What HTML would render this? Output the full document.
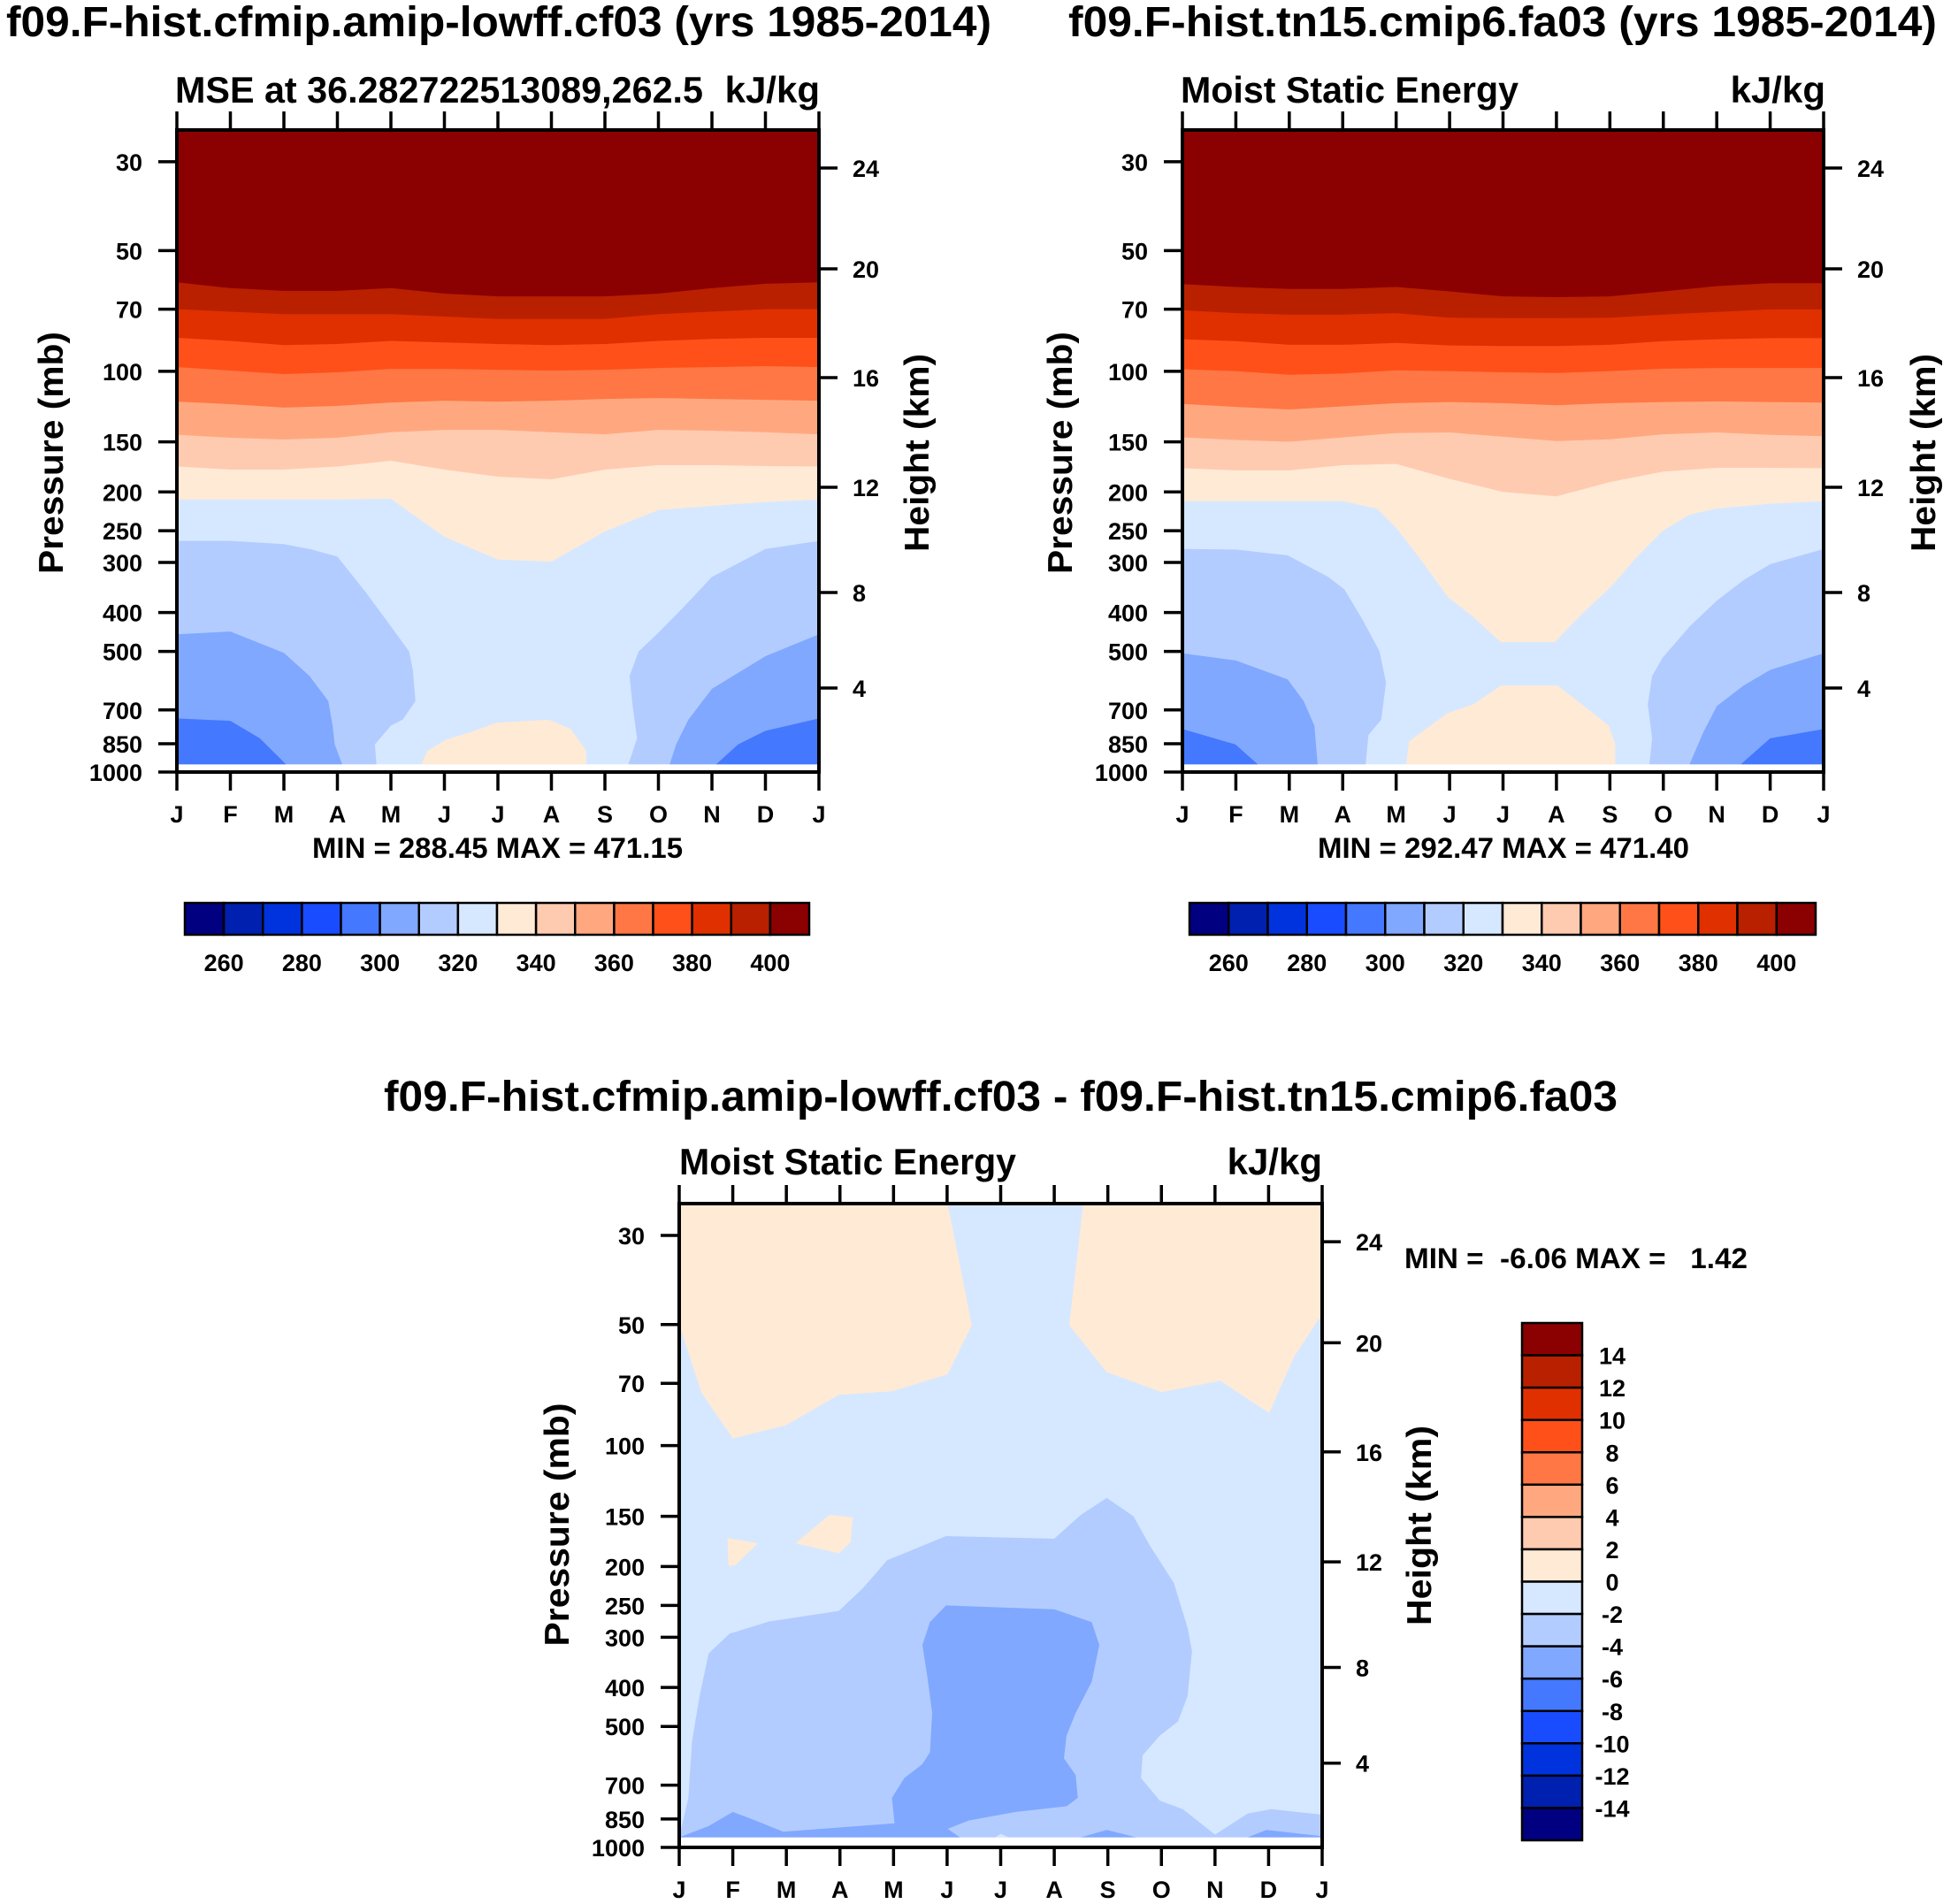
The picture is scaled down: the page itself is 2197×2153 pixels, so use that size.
<!DOCTYPE html>
<html>
<head>
<meta charset="utf-8">
<style>
  html, body { margin: 0; padding: 0; background: #ffffff; }
  svg { display: block; }
  text { font-family: "Liberation Sans", Arial, sans-serif; font-weight: bold; fill: #000; }
</style>
</head>
<body>
<svg id="fig" xmlns="http://www.w3.org/2000/svg" width="2197" height="2153" viewBox="0 0 2197 2153">
  <rect x="0" y="0" width="2197" height="2153" fill="#ffffff"/>

  <!-- Panel 1 texts -->
  <text x="7" y="41" font-size="48" textLength="1114" lengthAdjust="spacingAndGlyphs">f09.F-hist.cfmip.amip-lowff.cf03 (yrs 1985-2014)</text>
  <text x="198" y="116" font-size="42" textLength="597" lengthAdjust="spacingAndGlyphs">MSE at 36.282722513089,262.5</text>
  <text x="927" y="116" font-size="42" text-anchor="end">kJ/kg</text>
  <text transform="translate(71,512) rotate(-90)" font-size="39" text-anchor="middle" textLength="274" lengthAdjust="spacingAndGlyphs">Pressure (mb)</text>
  <text transform="translate(1050,512) rotate(-90)" font-size="39" text-anchor="middle" textLength="224" lengthAdjust="spacingAndGlyphs">Height (km)</text>
  <text x="353" y="970" font-size="32" textLength="419" lengthAdjust="spacingAndGlyphs">MIN = 288.45 MAX = 471.15</text>

  <!-- Panel 2 texts -->
  <text x="1208" y="41" font-size="48" textLength="982" lengthAdjust="spacingAndGlyphs">f09.F-hist.tn15.cmip6.fa03 (yrs 1985-2014)</text>
  <text x="1335" y="116" font-size="42" textLength="382" lengthAdjust="spacingAndGlyphs">Moist Static Energy</text>
  <text x="2064" y="116" font-size="42" text-anchor="end">kJ/kg</text>
  <text transform="translate(1212,512) rotate(-90)" font-size="39" text-anchor="middle" textLength="274" lengthAdjust="spacingAndGlyphs">Pressure (mb)</text>
  <text transform="translate(2188,512) rotate(-90)" font-size="39" text-anchor="middle" textLength="224" lengthAdjust="spacingAndGlyphs">Height (km)</text>
  <text x="1490" y="970" font-size="32" textLength="420" lengthAdjust="spacingAndGlyphs">MIN = 292.47 MAX = 471.40</text>

  <!-- Panel 3 texts -->
  <text x="434" y="1256" font-size="48" textLength="1395" lengthAdjust="spacingAndGlyphs">f09.F-hist.cfmip.amip-lowff.cf03 - f09.F-hist.tn15.cmip6.fa03</text>
  <text x="768" y="1328" font-size="42" textLength="381" lengthAdjust="spacingAndGlyphs">Moist Static Energy</text>
  <text x="1495" y="1328" font-size="42" text-anchor="end">kJ/kg</text>
  <text transform="translate(643,1724) rotate(-90)" font-size="39" text-anchor="middle" textLength="275" lengthAdjust="spacingAndGlyphs">Pressure (mb)</text>
  <text transform="translate(1618,1725) rotate(-90)" font-size="39" text-anchor="middle" textLength="226" lengthAdjust="spacingAndGlyphs">Height (km)</text>
  <text x="1588" y="1434" font-size="32" textLength="388" lengthAdjust="spacingAndGlyphs" xml:space="preserve">MIN =  -6.06 MAX =   1.42</text>

  <g id="layer"></g>
</svg>

<script>
// ---------------- data ----------------
const monthLabels = ['J','F','M','A','M','J','J','A','S','O','N','D','J'];
const monthIdx = [0,1,2,3,4,5,6,7,8,9,10,11,12];
const pressureTicks = [30,50,70,100,150,200,250,300,400,500,700,850,1000];
const heightTicks = [24,20,16,12,8,4];
const heightTickPressures = [31.1,55.5,103.7,194.7,356.5,617];

const palette = ['#000080','#0020b0','#0033dd','#1a4cff','#4478ff','#80a8ff','#b3ccff','#d6e8ff',
                 '#ffead6','#ffcbb0','#ffa880','#ff7744','#ff5019','#e03000','#b82000','#8b0000'];
const cbLabels12 = [260,280,300,320,340,360,380,400];
const cbLabels3 = [14,12,10,8,6,4,2,0,-2,-4,-6,-8,-10,-12,-14];

// Panel 1 contour boundaries (pressure, mb, at each month)
const p1B330 = [209,209,209,209,208,259,295,298.5,251,222,216.7,212,209];
const p1B340 = [172.8,175.9,175.9,172.8,167.2,175.9,183.2,186,175.9,171.5,171.5,172.4,172.8];
const p1B350 = [144,146.5,148,146.5,142,140,140,142,143.6,140,140.7,142,143.6];
const p1B360 = [119,120.8,123.2,122,119.6,118.4,119,118.4,117.2,116.6,117.2,117.8,118.4];
const p1B370 = [97.6,99.6,101.6,100.6,98.6,98.6,99.1,99.6,99.1,98.1,97.6,97.1,97.6];
const p1B380 = [82.5,84,86,85.5,84,84.7,85.5,86,85.5,84,83,82.5,82.5];
const p1B390 = [70,71,72,72,72,73,74,74,74,72,71,70,70];
const p1B400 = [60,62,63,63,62,64,65,65,65,64,62,60.5,60];
const p1Low320L = [[0,265],[1,265],[2,270],[2.5,278],[3,290],[3.53,356],[4,433],[4.34,500],[4.41,556],[4.46,665],[4.22,740],[4,766],[3.7,853],[3.73,957],[0,957]];
const p1Low320R = [[12,265],[11,277.6],[10,326],[9.45,390],[9,449],[8.63,500],[8.46,576],[8.52,689],[8.6,824],[8.44,957],[12,957]];
const p1Low310L = [[0,453],[1,446],[2,504],[2.48,576],[2.83,665],[2.91,766],[2.95,853],[3.09,957],[0,957]];
const p1Low310R = [[12,453],[11,514],[10,620],[9.56,740],[9.33,853],[9.21,957],[12,957]];
const p1Low300L = [[0,735],[1,745],[1.55,824],[2.04,957],[0,957]];
const p1Low300R = [[12,735],[11,789],[10.49,853],[10.08,957],[12,957]];
const p1High340 = [[4.57,957],[4.69,884],[5.04,829],[5.5,795],[5.97,753],[6.95,740],[7.36,781],[7.65,884],[7.65,957]];

// Panel 2 contour boundaries
const p2B330 = [[0,211],[1,211],[2,211],[3,211],[3.64,220],[3.99,245],[4.44,293],[4.97,366],[5.45,411],[5.96,474],[6.97,474],[7.47,404],[8.03,344],[8.48,293],[8.99,250],[9.49,228],[10,220],[11,214],[12,211]];
const p2B340 = [174.6,176.7,176.7,171.5,170.3,185.6,200.1,205.2,189,178,174.1,174.1,174.6];
const p2B350 = [146.2,148.4,149.9,146.2,142.6,142.1,145.7,149.4,147.8,143.6,142.1,144.1,145.2];
const p2B360 = [120.6,122.7,124.5,122.3,120.1,119.3,120.1,121.5,120.1,119.3,118.9,119.3,119.7];
const p2B370 = [98.8,99.9,102,101.3,99.5,99.9,100.6,101,99.9,98.5,98.1,98.1,98.1];
const p2B380 = [83.2,84.1,85.9,85.9,85,86.2,86.5,86.5,85.9,84.1,83.2,82.7,82.7];
const p2B390 = [70.4,71.6,72.2,72.2,71.6,73.5,73.7,73.7,73.5,72.2,71.1,70.1,70.1];
const p2B400 = [60.6,61.6,62.3,62.3,61.6,63.2,65,65.3,65,63.2,61.3,60.3,60.3];
const p2Low320L = [[0,277.6],[1,278.5],[1.97,288],[2.73,326],[3.03,350],[3.38,418.5],[3.69,500],[3.81,598],[3.72,740],[3.48,809],[3.43,957],[0,957]];
const p2Low320R = [[12,277.6],[11,303],[10.5,332],[10,373.5],[9.49,433.5],[8.99,518],[8.79,576],[8.71,677],[8.79,824],[8.74,957],[12,957]];
const p2Low310L = [[0,505.5],[1,527],[1.97,587],[2.27,665],[2.47,766],[2.53,957],[0,957]];
const p2Low310R = [[12,505.5],[11,556],[10.5,608.5],[10,685],[9.75,795],[9.49,957],[12,957]];
const p2Low300L = [[0,781],[0.99,853],[1.41,957],[0,957]];
const p2Low300R = [[12,781],[11,824],[10.45,957],[12,957]];
const p2High340 = [[4.19,957],[4.24,839],[4.95,714],[5.45,677],[5.96,608.5],[7.02,608.5],[7.47,677],[7.98,766],[8.1,853],[8.1,957]];

// Panel 3 (difference) regions
const p3Pos0L = [[0,25],[5.01,25],[5.24,35.7],[5.46,50.2],[5.01,66.5],[3.97,73.3],[2.98,74.8],[1.99,89],[1.0,96],[0.42,74],[0,50]];
const p3Pos0R = [[7.54,25],[7.28,50.2],[7.98,65.7],[9.0,73.6],[10.1,69],[11.01,83],[11.48,60],[12,47],[12,25]];
const p3Pos0S1 = [[0.9,170],[1.47,175],[1.04,199],[0.92,199]];
const p3Pos0S2 = [[2.17,175],[2.81,148.7],[3.24,151],[3.2,174],[2.98,185.5]];
const p3Neg2 = [[0,944],[0.17,753],[0.24,544],[0.38,420],[0.55,329],[0.94,294],[1.68,274],[2.98,258],[3.42,227],[3.88,193],[4.98,168],[7.0,170.5],[7.49,149],[7.98,135],[8.48,150],[8.79,178],[9.23,219.5],[9.49,284.5],[9.57,324],[9.49,420],[9.31,486],[8.97,527],[8.65,590],[8.62,672],[8.97,765],[9.4,803],[10.0,929],[10.61,824],[11.05,803],[12,829],[12,944]];
const p3Neg4A = [[0,944],[0.55,885],[1.0,816],[1.42,857],[1.94,914],[4.02,871],[3.97,753],[4.2,672],[4.54,620],[4.68,580],[4.72,463],[4.63,375],[4.54,313.5],[4.68,275],[4.98,250],[7.0,255.6],[7.7,275],[7.84,313.5],[7.7,387],[7.4,463],[7.23,527],[7.18,600],[7.4,661],[7.44,753],[7.23,790],[6.28,816],[5.41,857],[5.01,899],[5.24,944]];
const p3Neg4B = [[7.49,944],[7.98,905],[8.53,944]];
const p3Neg4C = [[10.61,944],[10.96,905],[12,938],[12,944]];
const p3Neg0Spot = [[5.9,944],[6.0,925],[6.15,944]];

// ---------------- drawing ----------------
const NS = 'http://www.w3.org/2000/svg';
const layer = document.getElementById('layer');
const PTOP = 25;

function mk(tag, parent) {
  const e = document.createElementNS(NS, tag);
  (parent || layer).appendChild(e);
  return e;
}

function makeAxes(left, right, top, bottom) {
  const k = (bottom - top) / Math.log(1000 / PTOP);
  return {
    x: m => left + (right - left) * m / 12,
    y: p => bottom - k * Math.log(1000 / p),
    left, right, top, bottom
  };
}

function polyPts(ax, pts) {
  return pts.map(q => ax.x(q[0]).toFixed(1) + ',' + ax.y(q[1]).toFixed(1)).join(' ');
}

function drawPoly(g, ax, pts, color, name) {
  const e = mk('polygon', g);
  e.setAttribute('points', polyPts(ax, pts));
  e.setAttribute('fill', color);
  
  
}

function monthlyToPairs(arr) { return monthIdx.map((m, i) => [m, arr[i]]); }

function drawBandFromTop(g, ax, boundaryPairs, color, name) {
  const pts = [[0, PTOP], [12, PTOP]].concat(boundaryPairs.slice().reverse());
  drawPoly(g, ax, pts, color, name);
}

function drawFrame(ax, prefix, dataBottomP) {
  const g = mk('g');
  
  
  const fr = mk('rect', g);
  fr.setAttribute('x', ax.left); fr.setAttribute('y', ax.top);
  fr.setAttribute('width', ax.right - ax.left); fr.setAttribute('height', ax.bottom - ax.top);
  fr.setAttribute('fill', 'none'); fr.setAttribute('stroke', '#000'); fr.setAttribute('stroke-width', '4');
  
  
  // month ticks top & bottom
  monthIdx.forEach((m, i) => {
    const x = ax.x(m);
    const tb = mk('line', g);
    tb.setAttribute('x1', x); tb.setAttribute('x2', x);
    tb.setAttribute('y1', ax.bottom); tb.setAttribute('y2', ax.bottom + 21);
    tb.setAttribute('stroke', '#000'); tb.setAttribute('stroke-width', '3.5');
    
    
    const tt = mk('line', g);
    tt.setAttribute('x1', x); tt.setAttribute('x2', x);
    tt.setAttribute('y1', ax.top); tt.setAttribute('y2', ax.top - 21);
    tt.setAttribute('stroke', '#000'); tt.setAttribute('stroke-width', '3.5');
    
    
    const lab = mk('text', g);
    lab.setAttribute('x', x); lab.setAttribute('y', ax.bottom + 57);
    lab.setAttribute('font-size', '27'); lab.setAttribute('text-anchor', 'middle');
    lab.textContent = monthLabels[i];
    
    
  });
  pressureTicks.forEach(p => {
    const y = ax.y(p);
    const t = mk('line', g);
    t.setAttribute('x1', ax.left - 21); t.setAttribute('x2', ax.left);
    t.setAttribute('y1', y); t.setAttribute('y2', y);
    t.setAttribute('stroke', '#000'); t.setAttribute('stroke-width', '3.5');
    
    
    const lab = mk('text', g);
    lab.setAttribute('x', ax.left - 39); lab.setAttribute('y', y + 10);
    lab.setAttribute('font-size', '27'); lab.setAttribute('text-anchor', 'end');
    lab.textContent = String(p);
    
    
  });
  heightTicks.forEach((h, i) => {
    const y = ax.y(heightTickPressures[i]);
    const t = mk('line', g);
    t.setAttribute('x1', ax.right); t.setAttribute('x2', ax.right + 21);
    t.setAttribute('y1', y); t.setAttribute('y2', y);
    t.setAttribute('stroke', '#000'); t.setAttribute('stroke-width', '3.5');
    
    
    const lab = mk('text', g);
    lab.setAttribute('x', ax.right + 38); lab.setAttribute('y', y + 10);
    lab.setAttribute('font-size', '27');
    lab.textContent = String(h);
    
    
  });
}

function drawPanel(prefix, ax, dataBottomP, bands, lowPolys) {
  const g = mk('g');
  
  
  drawPoly(g, ax, [[0, PTOP], [12, PTOP], [12, dataBottomP], [0, dataBottomP]], '#d6e8ff', prefix + '-base-band');
  bands.forEach(b => drawBandFromTop(g, ax, b.pairs, b.color, prefix + '-band-' + b.level));
  lowPolys.forEach(b => drawPoly(g, ax, b.pts, b.color, prefix + '-region-' + b.level));
  drawFrame(ax, prefix, dataBottomP);
}

function drawHorizontalColorbar(prefix, x0, x1, y0, y1) {
  const g = mk('g');
  
  
  const w = (x1 - x0) / palette.length;
  palette.forEach((c, i) => {
    const r = mk('rect', g);
    r.setAttribute('x', x0 + i * w); r.setAttribute('y', y0);
    r.setAttribute('width', w); r.setAttribute('height', y1 - y0);
    r.setAttribute('fill', c); r.setAttribute('stroke', '#000'); r.setAttribute('stroke-width', '2.5');
    
    
  });
  cbLabels12.forEach((v, i) => {
    const t = mk('text', g);
    t.setAttribute('x', x0 + (1 + 2 * i) * w); t.setAttribute('y', y1 + 41);
    t.setAttribute('font-size', '27'); t.setAttribute('text-anchor', 'middle');
    t.textContent = String(v);
    
    
  });
}

function drawVerticalColorbar(prefix, x0, x1, y0, y1) {
  const g = mk('g');
  
  
  const h = (y1 - y0) / palette.length;
  palette.slice().reverse().forEach((c, i) => {
    const r = mk('rect', g);
    r.setAttribute('x', x0); r.setAttribute('y', y0 + i * h);
    r.setAttribute('width', x1 - x0); r.setAttribute('height', h);
    r.setAttribute('fill', c); r.setAttribute('stroke', '#000'); r.setAttribute('stroke-width', '2.5');
    
    
  });
  cbLabels3.forEach((v, i) => {
    const t = mk('text', g);
    t.setAttribute('x', x1 + 34); t.setAttribute('y', y0 + (i + 1) * h + 10);
    t.setAttribute('font-size', '27'); t.setAttribute('text-anchor', 'middle');
    t.textContent = String(v);
    
    
  });
}

// Panel 1
const ax1 = makeAxes(200, 926, 147, 873);
drawPanel('panel1', ax1, 957, [
  {level: 330, color: '#ffead6', pairs: monthlyToPairs(p1B330)},
  {level: 340, color: '#ffcbb0', pairs: monthlyToPairs(p1B340)},
  {level: 350, color: '#ffa880', pairs: monthlyToPairs(p1B350)},
  {level: 360, color: '#ff7744', pairs: monthlyToPairs(p1B360)},
  {level: 370, color: '#ff5019', pairs: monthlyToPairs(p1B370)},
  {level: 380, color: '#e03000', pairs: monthlyToPairs(p1B380)},
  {level: 390, color: '#b82000', pairs: monthlyToPairs(p1B390)},
  {level: 400, color: '#8b0000', pairs: monthlyToPairs(p1B400)}
], [
  {level: '320-left', color: '#b3ccff', pts: p1Low320L},
  {level: '320-right', color: '#b3ccff', pts: p1Low320R},
  {level: '310-left', color: '#80a8ff', pts: p1Low310L},
  {level: '310-right', color: '#80a8ff', pts: p1Low310R},
  {level: '300-left', color: '#4478ff', pts: p1Low300L},
  {level: '300-right', color: '#4478ff', pts: p1Low300R},
  {level: '340-low', color: '#ffead6', pts: p1High340}
]);
drawHorizontalColorbar('panel1', 209, 915, 1021, 1057);

// Panel 2
const ax2 = makeAxes(1337, 2062, 147, 873);
drawPanel('panel2', ax2, 957, [
  {level: 330, color: '#ffead6', pairs: p2B330},
  {level: 340, color: '#ffcbb0', pairs: monthlyToPairs(p2B340)},
  {level: 350, color: '#ffa880', pairs: monthlyToPairs(p2B350)},
  {level: 360, color: '#ff7744', pairs: monthlyToPairs(p2B360)},
  {level: 370, color: '#ff5019', pairs: monthlyToPairs(p2B370)},
  {level: 380, color: '#e03000', pairs: monthlyToPairs(p2B380)},
  {level: 390, color: '#b82000', pairs: monthlyToPairs(p2B390)},
  {level: 400, color: '#8b0000', pairs: monthlyToPairs(p2B400)}
], [
  {level: '320-left', color: '#b3ccff', pts: p2Low320L},
  {level: '320-right', color: '#b3ccff', pts: p2Low320R},
  {level: '310-left', color: '#80a8ff', pts: p2Low310L},
  {level: '310-right', color: '#80a8ff', pts: p2Low310R},
  {level: '300-left', color: '#4478ff', pts: p2Low300L},
  {level: '300-right', color: '#4478ff', pts: p2Low300R},
  {level: '340-low', color: '#ffead6', pts: p2High340}
]);
drawHorizontalColorbar('panel2', 1345, 2053, 1021, 1057);

// Panel 3
const ax3 = makeAxes(768, 1495, 1361, 2089);
drawPanel('panel3', ax3, 944, [], [
  {level: 'pos-left', color: '#ffead6', pts: p3Pos0L},
  {level: 'pos-right', color: '#ffead6', pts: p3Pos0R},
  {level: 'pos-small1', color: '#ffead6', pts: p3Pos0S1},
  {level: 'pos-small2', color: '#ffead6', pts: p3Pos0S2},
  {level: 'neg2', color: '#b3ccff', pts: p3Neg2},
  {level: 'neg4-main', color: '#80a8ff', pts: p3Neg4A},
  {level: 'neg4-b', color: '#80a8ff', pts: p3Neg4B},
  {level: 'neg4-c', color: '#80a8ff', pts: p3Neg4C},
  {level: 'neg0-spot', color: '#d6e8ff', pts: p3Neg0Spot}
]);
drawVerticalColorbar('panel3', 1721, 1789, 1496, 2081);
</script>
</body>
</html>
